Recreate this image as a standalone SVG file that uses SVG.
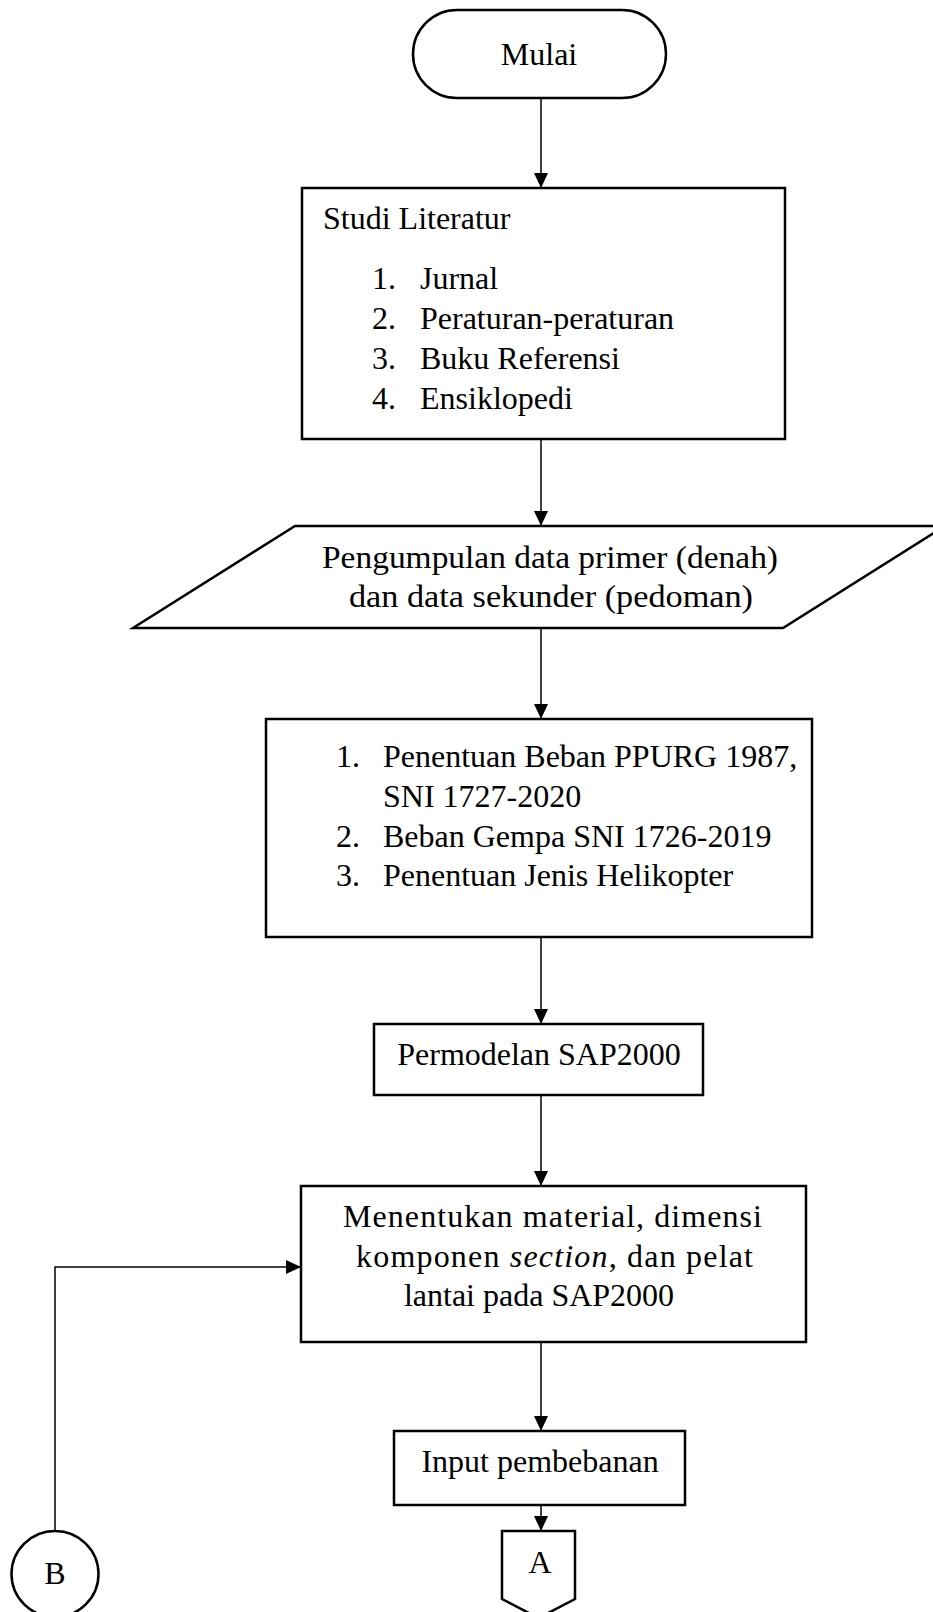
<svg xmlns="http://www.w3.org/2000/svg" width="933" height="1612" viewBox="0 0 933 1612">
<style>
.shape{fill:#fff;stroke:#000;stroke-width:2.5}
.conn{fill:none;stroke:#000;stroke-width:1.5}
text{font-family:"Liberation Serif","Times New Roman",serif;font-size:32px;fill:#000}
.c{text-anchor:middle}
</style>
<defs>
<marker id="arr" markerWidth="15" markerHeight="14" refX="15" refY="7" orient="auto" markerUnits="userSpaceOnUse">
<path d="M0,0 L15,7 L0,14 Z" fill="#000"/>
</marker>
</defs>
<rect width="933" height="1612" fill="#fff"/>
<g id="connectors">
<line class="conn" x1="541" y1="98" x2="541" y2="188" marker-end="url(#arr)"/>
<line class="conn" x1="541" y1="439" x2="541" y2="526" marker-end="url(#arr)"/>
<line class="conn" x1="541" y1="628" x2="541" y2="719" marker-end="url(#arr)"/>
<line class="conn" x1="541" y1="937" x2="541" y2="1024" marker-end="url(#arr)"/>
<line class="conn" x1="541" y1="1095" x2="541" y2="1186" marker-end="url(#arr)"/>
<line class="conn" x1="541" y1="1343" x2="541" y2="1431" marker-end="url(#arr)"/>
<line class="conn" x1="541" y1="1505" x2="541" y2="1531" marker-end="url(#arr)"/>
<polyline class="conn" points="55,1531 55,1267 301,1267" marker-end="url(#arr)"/>
</g>
<g id="mulai">
<rect class="shape" x="413" y="10" width="253" height="88" rx="44" ry="44"/>
<text class="c" x="539" y="65">Mulai</text>
</g>
<g id="studi">
<rect class="shape" x="302" y="188" width="483" height="251"/>
<text x="323" y="229">Studi Literatur</text>
<text x="372" y="289">1.</text><text x="420" y="289">Jurnal</text>
<text x="372" y="329">2.</text><text x="420" y="329">Peraturan-peraturan</text>
<text x="372" y="369">3.</text><text x="420" y="369">Buku Referensi</text>
<text x="372" y="409">4.</text><text x="420" y="409">Ensiklopedi</text>
</g>
<g id="pengumpulan">
<polygon class="shape" points="295,526 945,526 783,628 133,628"/>
<text class="c" x="550" y="568" font-size="35" textLength="456" lengthAdjust="spacingAndGlyphs">Pengumpulan data primer (denah)</text>
<text class="c" x="551" y="607" font-size="35" textLength="404" lengthAdjust="spacingAndGlyphs">dan data sekunder (pedoman)</text>
</g>
<g id="penentuan">
<rect class="shape" x="266" y="719" width="546" height="218"/>
<text x="336" y="767">1.</text><text x="383" y="767">Penentuan Beban PPURG 1987,</text>
<text x="383" y="807">SNI 1727-2020</text>
<text x="336" y="847">2.</text><text x="383" y="847">Beban Gempa SNI 1726-2019</text>
<text x="336" y="886">3.</text><text x="383" y="886">Penentuan Jenis Helikopter</text>
</g>
<g id="permodelan">
<rect class="shape" x="374" y="1024" width="329" height="71"/>
<text class="c" x="539" y="1065">Permodelan SAP2000</text>
</g>
<g id="menentukan">
<rect class="shape" x="301" y="1186" width="505" height="156"/>
<text x="343" y="1227" textLength="419" lengthAdjust="spacing">Menentukan material, dimensi</text>
<text x="356" y="1267" textLength="397" lengthAdjust="spacing">komponen <tspan font-style="italic">section</tspan>, dan pelat</text>
<text class="c" x="539" y="1306">lantai pada SAP2000</text>
</g>
<g id="input">
<rect class="shape" x="394" y="1431" width="291" height="74"/>
<text class="c" x="540" y="1472">Input pembebanan</text>
</g>
<g id="connA">
<polygon class="shape" points="502,1531 575,1531 575,1599 538.5,1618 502,1599"/>
<text class="c" x="540" y="1573">A</text>
</g>
<g id="connB">
<ellipse class="shape" cx="55" cy="1574" rx="43.5" ry="43"/>
<text class="c" x="55" y="1584">B</text>
</g>
</svg>
